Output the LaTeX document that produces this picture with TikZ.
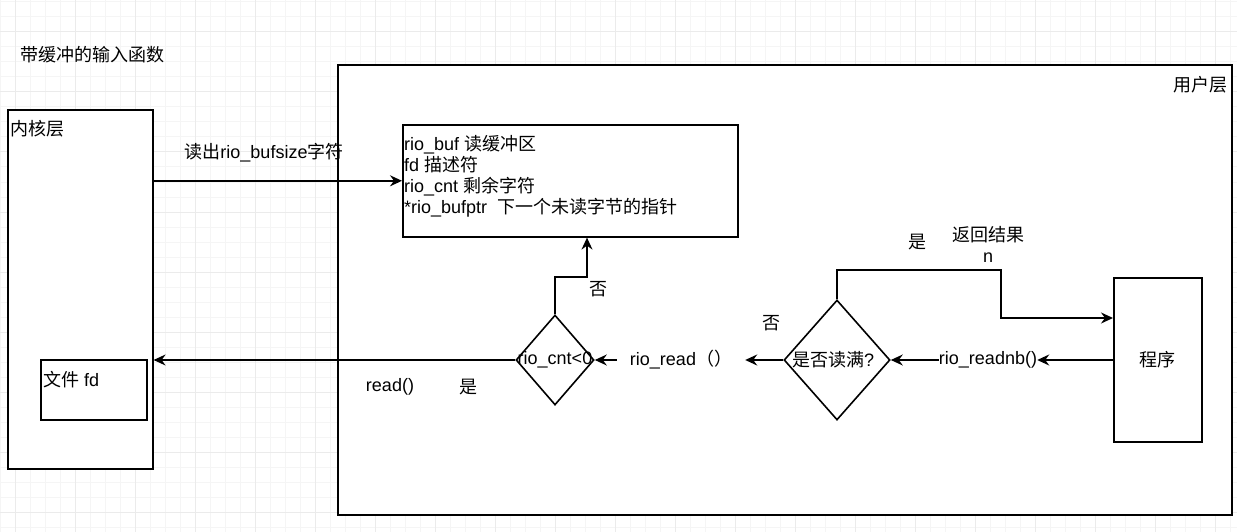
\documentclass[tikz,border=0pt]{standalone}
\usepackage{fontspec}
\setmainfont{Liberation Sans}
\newfontfamily\cjk{Noto Sans CJK SC}
\usetikzlibrary{shapes.geometric,arrows.meta}
\definecolor{gminor}{HTML}{F5F5F5}
\definecolor{gmajor}{HTML}{EBEBEB}
\tikzset{
  box/.style={draw=black, fill=white, line width=1.6pt, anchor=north west, inner sep=0pt},
  dia/.style={diamond, draw=black, fill=white, line width=1.6pt, inner sep=0pt},
  arr/.style={draw=black, line width=1.6pt, -{Stealth[length=12pt,width=11pt,inset=4pt]}},
  lbl/.style={inner sep=0pt, font=\fontsize{18pt}{21pt}\selectfont},
}
\begin{document}
\begin{tikzpicture}[x=1pt,y=-1pt]
\useasboundingbox (0,0) rectangle (1237,532);
\fill[white] (0,0) rectangle (1237,532);
% grid
\foreach \x in {0,15,...,1237} \draw[gminor, line width=1pt] (\x,0) -- (\x,532);
\foreach \y in {2,17,...,532} \draw[gminor, line width=1pt] (0,\y) -- (1237,\y);
\foreach \x in {15,75,...,1237} \draw[gmajor, line width=1pt] (\x,0) -- (\x,532);
\foreach \y in {32,92,...,532} \draw[gmajor, line width=1pt] (0,\y) -- (1237,\y);

% title
\node[lbl, anchor=west] (title) at (20,55) {\cjk 带缓冲的输入函数};

% kernel layer
\node[box, minimum width=145pt, minimum height=359pt] (kern) at (7,109) {};
\node[lbl, anchor=west] (kernlbl) at (10,129) {\cjk 内核层};
\node[box, minimum width=106pt, minimum height=60pt] (file) at (40,359) {};
\node[lbl, anchor=west] (filelbl) at (43,380) {{\cjk 文件} fd};

% user layer
\node[box, minimum width=894pt, minimum height=450pt] (user) at (337,64) {};
\node[lbl, anchor=east] (userlbl) at (1228,85) {\cjk 用户层};

% buffer
\node[box, minimum width=335pt, minimum height=112pt] (buf) at (402,124) {};
\node[lbl, anchor=north west, align=left] (buftxt) at (404,135)
  {rio\_buf {\cjk 读缓冲区}\\fd {\cjk 描述符}\\rio\_cnt {\cjk 剩余字符}\\*rio\_bufptr\ \ {\cjk 下一个未读字节的指针}};

% program
\node[box, minimum width=88pt, minimum height=164pt] (prog) at (1113,277) {};
\node[lbl] (proglbl) at (prog.center) {\cjk 程序};

% diamonds
\node[dia, minimum width=78pt, minimum height=90pt] (d1) at (555,360) {};
\node[lbl] (d1lbl) at (d1.center) {rio\_cnt<0};
\node[dia, minimum width=106pt, minimum height=120pt] (d2) at (837,360) {};
\node[lbl] (d2lbl) at ([xshift=-4pt]d2.center) {{\cjk 是否读满}?};

% text nodes on the chain
\node[lbl, minimum width=128pt, minimum height=20pt] (rr) at (681,360) {rio\_read{\cjk （）}};
\node[lbl, minimum width=98pt, minimum height=20pt] (rnb) at (988,360) {rio\_readnb()};

% connectors
\draw[arr] (kern.east |- buf.west) -- (buf.west);
\node[lbl] (l1) at (264,153) {{\cjk 读出}rio\_bufsize{\cjk 字符}};

\draw[arr] (d1.north) |- (587,277) -- (buf.south -| 587,0);
\node[lbl] (l2) at (598,289) {\cjk 否};

\draw[arr] (d1.west) -- (d1.west -| kern.east);
\node[lbl] (l3) at (390,387) {read()};
\node[lbl] (l4) at (468,387) {\cjk 是};

\draw[arr] (rr.west) -- (d1.east);
\draw[arr] (d2.west) -- (rr.east);
\node[lbl] (l5) at (771,323) {\cjk 否};

\draw[arr] (d2.north) |- (1001,270) |- (prog.west |- 0,318);
\node[lbl] (l6) at (917,242) {\cjk 是};
\node[lbl, align=center] (l7) at (988,244) {{\cjk 返回结果}\\n};

\draw[arr] (prog.west |- rnb.east) -- (rnb.east);
\draw[arr] (rnb.west) -- (d2.east);
\end{tikzpicture}
\end{document}
